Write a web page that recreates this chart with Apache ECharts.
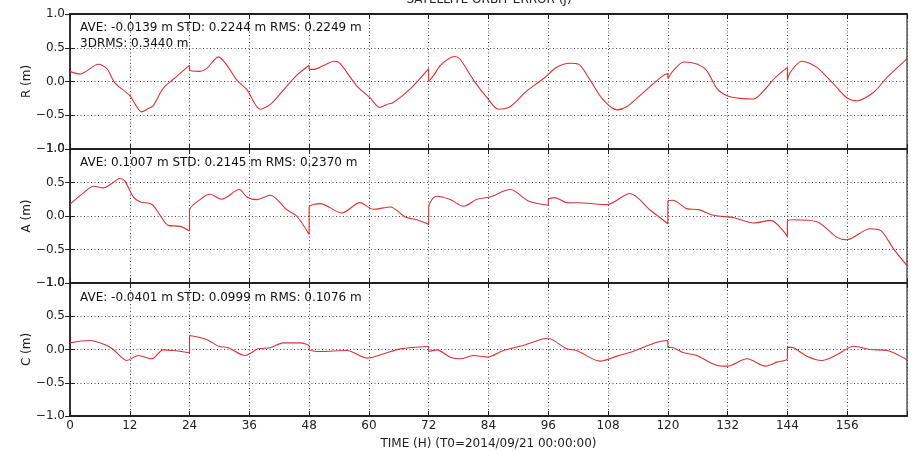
<!DOCTYPE html>
<html>
<head>
<meta charset="utf-8">
<script src="https://cdn.jsdelivr.net/npm/echarts@6/dist/echarts.min.js"></script>
<style>html,body{margin:0;padding:0;background:#fff}#c{width:914px;height:451px}</style>
</head>
<body>
<div id="c"></div>
<script>
// ---- data (hours since T0, error in metres) ----
const xTicks = [0, 12, 24, 36, 48, 60, 72, 84, 96, 108, 120, 132, 144, 156];
const yTicks = [-1.0, -0.5, 0.0, 0.5, 1.0];

const rTime = [0,2,3,5.7,7.4,9,12,14.4,15.7,16.7,18.7,20.7,22.4,24,24,26,27.4,29.8,31.5,33.5,35.5,38.2,40.2,42.8,45.5,48,48,49,51,53,54.2,57.5,60.2,62.2,63.6,64.9,68.3,72,72,73,74.5,77.2,78.3,81,83.7,86,88.4,91.7,95,97.7,100.4,102,104.4,107,109.8,111.8,115.1,119.1,120,120,121.1,123.2,125.8,127.8,129.9,131.9,134.5,137.2,139.2,141.6,144,144,144.6,146.9,149.9,153.3,155.9,158,161.3,164,168];
const rVal  = [0.15,0.11,0.14,0.255,0.19,-0.02,-0.21,-0.45,-0.40,-0.36,-0.10,0.03,0.14,0.24,0.17,0.15,0.19,0.365,0.24,0.02,-0.12,-0.41,-0.34,-0.13,0.09,0.24,0.18,0.18,0.24,0.30,0.27,-0.06,-0.24,-0.385,-0.34,-0.31,-0.11,0.19,0.0,0.09,0.25,0.37,0.33,0.02,-0.24,-0.41,-0.37,-0.14,0.04,0.21,0.27,0.26,0.02,-0.27,-0.42,-0.37,-0.16,0.09,0.12,0.04,0.16,0.29,0.26,0.16,-0.11,-0.21,-0.25,-0.26,-0.14,0.06,0.21,0.02,0.14,0.30,0.21,-0.04,-0.24,-0.285,-0.16,0.06,0.335];

const aTime = [0,2.7,4.7,6.7,8.4,10,11,12.7,14.1,16.4,18.1,19.7,22.1,24,24,26.1,28.1,30.4,34,35.5,37.5,40.2,43.5,45.5,48,48,50.2,54.6,58.2,60.9,64.3,67.3,69.6,72,72,73.6,76.3,79,81.7,84.3,88.4,92,96,96,97.3,99.7,103.1,107.8,112.4,116.5,120,120,121,123.8,126.2,129.2,133.2,137.2,140.6,144,144,145.2,149.9,153.9,155.9,160.6,162.7,165.3,168];
const aVal  = [0.175,0.345,0.445,0.42,0.485,0.56,0.525,0.285,0.21,0.175,0.01,-0.14,-0.155,-0.225,0.085,0.245,0.325,0.25,0.395,0.285,0.245,0.31,0.095,0.0,-0.275,0.125,0.185,0.045,0.2,0.1,0.135,-0.015,-0.055,-0.125,0.135,0.295,0.245,0.145,0.25,0.285,0.395,0.225,0.16,0.245,0.275,0.2,0.195,0.17,0.335,0.085,-0.115,0.225,0.235,0.11,0.095,0.01,-0.025,-0.105,-0.065,-0.305,-0.075,-0.055,-0.085,-0.315,-0.355,-0.19,-0.215,-0.49,-0.74];

const cTime = [0,4,7.4,8.7,11.4,13.7,16.4,18.7,20.7,24,24,27.4,29.8,31.8,35.1,37.8,40.2,42.8,46.2,48,48,50.2,55.6,59.6,63,66.3,72,72,73.6,76.3,78.3,81,83.7,87,91,95.9,99.7,101.7,106.4,109.8,113.1,117.8,120,120,121.1,123.2,125.8,129.9,131.9,135.9,139.6,141.9,144,144,145.2,147.9,150.9,153.9,157.3,160.6,164,168];
const cVal  = [0.1,0.135,0.06,0.0,-0.165,-0.09,-0.14,-0.005,-0.015,-0.05,0.21,0.15,0.05,0.025,-0.09,0.01,0.025,0.1,0.1,0.05,0.0,-0.03,-0.015,-0.13,-0.065,0.01,0.045,-0.03,-0.005,-0.115,-0.14,-0.09,-0.115,-0.015,0.06,0.17,0.01,-0.015,-0.175,-0.1,-0.025,0.11,0.135,0.035,0.025,-0.05,-0.09,-0.24,-0.25,-0.14,-0.25,-0.19,-0.14,0.035,0.025,-0.1,-0.165,-0.08,0.05,0.0,-0.015,-0.155];

const panelNames = ['R (m)', 'A (m)', 'C (m)'];
const statsText = [
  'AVE: -0.0139 m STD: 0.2244 m RMS: 0.2249 m\n3DRMS: 0.3440 m',
  'AVE: 0.1007 m STD: 0.2145 m RMS: 0.2370 m',
  'AVE: -0.0401 m STD: 0.0999 m RMS: 0.1076 m'
];
const titleText = 'SATELLITE ORBIT ERROR (J)';
const xName = 'TIME (H) (T0=2014/09/21 00:00:00)';

// ---- chart ----
const zip = (t, v) => t.map((x, i) => [x, v[i]]);
const seriesData = [zip(rTime, rVal), zip(aTime, aVal), zip(cTime, cVal)];
const FONT = 'DejaVu Sans';
const grids = [
  {left: 70, right: 7, top: 14, height: 135},
  {left: 70, right: 7, top: 149, height: 134},
  {left: 70, right: 7, top: 283, height: 135}
];
const dotted = {color: '#444', width: 1, type: [1, 2.5]};
const xAxes = [], yAxes = [], series = [];
grids.forEach(g => {
  g.show = true; g.borderColor = '#333'; g.borderWidth = 1.2; g.backgroundColor = 'transparent';
});
for (let i = 0; i < 3; i++) {
  xAxes.push({
    gridIndex: i, type: 'value', min: 0, max: 168, interval: 12, position: 'bottom',
    axisLine: {show: true, onZero: false, lineStyle: {color: '#222', width: 1.8}},
    axisTick: {show: true, inside: true, length: 5, lineStyle: {color: '#222'}},
    axisLabel: {show: i === 2, margin: 4, fontFamily: FONT, fontSize: 12, color: '#222',
      formatter: v => (xTicks.indexOf(v) >= 0 ? String(v) : '')},
    splitLine: {show: true, lineStyle: dotted},
    name: i === 2 ? xName : '', nameLocation: 'middle', nameGap: 22, nameMoveOverlap: false,
    nameTextStyle: {fontFamily: FONT, fontSize: 12, color: '#222'}
  });
}
for (let i = 0; i < 3; i++) {
  xAxes.push({
    gridIndex: i, type: 'value', min: 0, max: 168, interval: 12, position: 'top',
    axisLine: {show: true, onZero: false, lineStyle: {color: '#222', width: 1.8}},
    axisTick: {show: true, inside: true, length: 5, lineStyle: {color: '#222'}},
    axisLabel: {show: false}, splitLine: {show: false}
  });
}
for (let i = 0; i < 3; i++) {
  yAxes.push({
    gridIndex: i, type: 'value', min: -1, max: 1, interval: 0.5, position: 'left',
    axisLine: {show: true, onZero: false, lineStyle: {color: '#333', width: 2}},
    axisTick: {show: true, inside: true, length: 5, lineStyle: {color: '#222'}},
    axisLabel: {show: true, margin: 5, fontFamily: FONT, fontSize: 12, color: '#222',
      showMinLabel: true, showMaxLabel: true,
      formatter: v => (yTicks.indexOf(v) >= 0 ? v.toFixed(1).replace('-', '\u2212') : '')},
    splitLine: {show: true, lineStyle: dotted},
    name: panelNames[i], nameLocation: 'middle', nameGap: 37, nameRotate: 90, nameMoveOverlap: false,
    nameTextStyle: {fontFamily: FONT, fontSize: 12, color: '#222'}
  });
}
for (let i = 0; i < 3; i++) {
  yAxes.push({
    gridIndex: i, type: 'value', min: -1, max: 1, interval: 0.5, position: 'right',
    axisLine: {show: false},
    axisTick: {show: true, inside: true, length: 5, lineStyle: {color: '#222'}},
    axisLabel: {show: false}, splitLine: {show: false}
  });
}
for (let i = 0; i < 3; i++) {
  series.push({
    type: 'line', xAxisIndex: i, yAxisIndex: i, data: seriesData[i],
    showSymbol: false, smooth: 0.3,
    lineStyle: {color: '#d93333', width: 1.1}, itemStyle: {color: '#d93333'},
    animation: false, z: 3
  });
}
const graphics = [
  {type: 'text', x: 489, y: 0, style: {text: titleText, fontFamily: FONT, fontSize: 12, fill: '#222', align: 'center', verticalAlign: 'middle'}},
];
const statTops = [20, 155, 290];
statsText.forEach((t, i) => {
  graphics.push({type: 'text', x: 80, y: statTops[i], z: 10,
    style: {text: t, fontFamily: FONT, fontSize: 12, lineHeight: 16, fill: '#111', align: 'left', verticalAlign: 'top'}});
});

const chart = echarts.init(document.getElementById('c'), null, {renderer: 'canvas'});
chart.setOption({
  animation: false,
  backgroundColor: '#fff',
  grid: grids,
  xAxis: xAxes,
  yAxis: yAxes,
  series: series,
  graphic: graphics
});
</script>
</body>
</html>
